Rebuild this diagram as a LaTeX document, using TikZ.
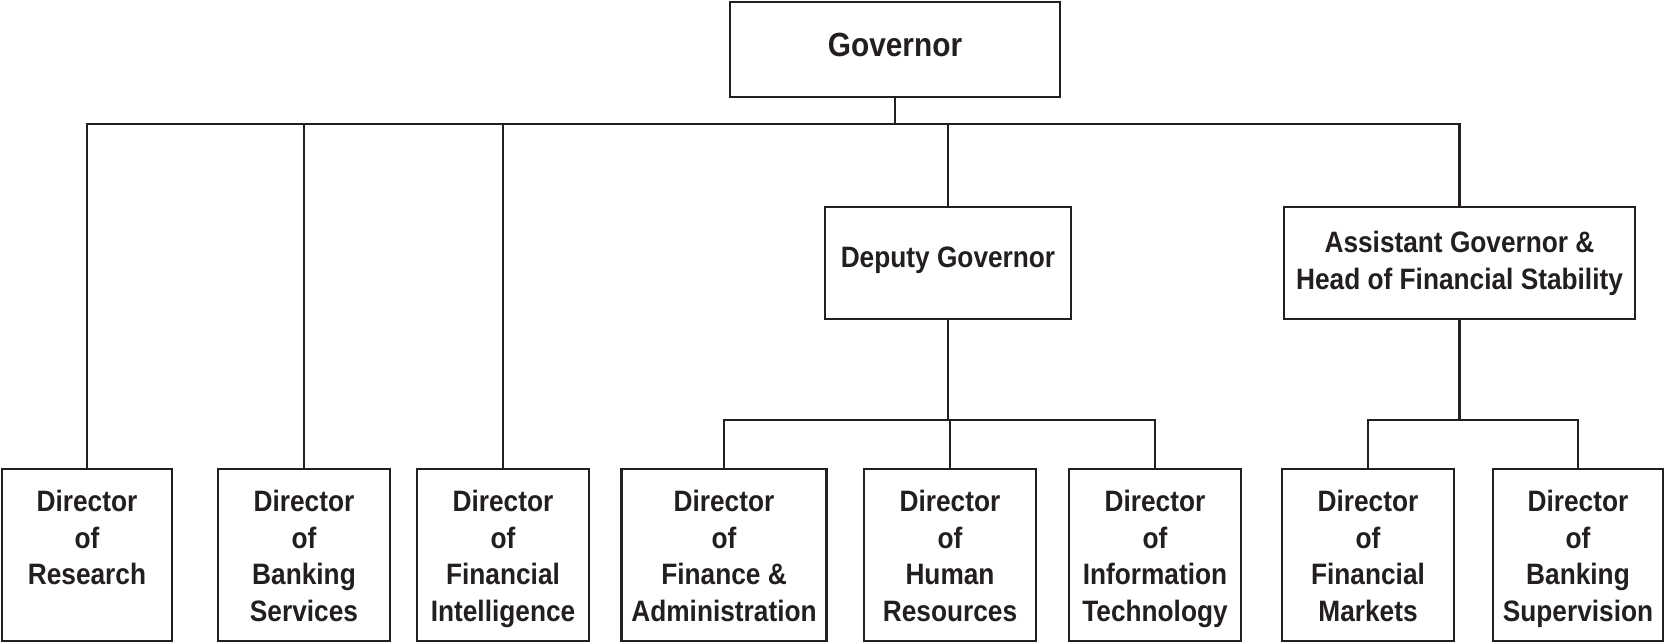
\documentclass[tikz,border=0pt]{standalone}
\usepackage{fontspec}
\newfontfamily\orgfont{Liberation Sans}[FakeStretch=0.89]
\definecolor{ink}{HTML}{231F20}
\begin{document}
\begin{tikzpicture}[x=1pt,y=-1pt,
  every node/.style={font=\orgfont\bfseries, text=ink},
  boxbase/.style={draw=ink, line width=2.6pt, rectangle, inner sep=0pt, fill=white},
  topbox/.style={boxbase, minimum width=330pt, minimum height=95pt, font=\orgfont\bfseries\fontsize{33.5}{40}\selectfont, text height=24pt, text depth=9pt},
  midbox/.style={boxbase, minimum height=112pt, font=\orgfont\bfseries\fontsize{29.5}{37}\selectfont, align=center},
  dirbox/.style={boxbase, font=\orgfont\bfseries\fontsize{29.5}{36.5}\selectfont},
  link/.style={draw=ink, line width=2.6pt}
]
\useasboundingbox (0,0) rectangle (1665,644);
\newcommand{\dirtext}[2]{\parbox[c][172pt][t]{#1}{\centering\vspace*{21.5pt}#2\par}}

\node[topbox] (gov) at (895,49.5) {Governor};
\node[midbox, minimum width=246pt, text depth=11pt] (dg) at (948,263) {Deputy Governor};
\node[midbox, minimum width=351pt] (ag) at (1459.5,263) {Assistant Governor \&\\Head of Financial Stability};

\node[dirbox] (res) at (87,555) {\dirtext{170pt}{Director\\of\\Research}};
\node[dirbox] (bsv) at (304,555) {\dirtext{172pt}{Director\\of\\Banking\\Services}};
\node[dirbox] (fi) at (503,555) {\dirtext{172pt}{Director\\of\\Financial\\Intelligence}};
\node[dirbox] (fa) at (724,555) {\dirtext{205pt}{Director\\of\\Finance \&\\Administration}};
\node[dirbox] (hr) at (950,555) {\dirtext{172pt}{Director\\of\\Human\\Resources}};
\node[dirbox] (it) at (1155,555) {\dirtext{172pt}{Director\\of\\Information\\Technology}};
\node[dirbox] (fm) at (1368,555) {\dirtext{172pt}{Director\\of\\Financial\\Markets}};
\node[dirbox] (bsu) at (1578,555) {\dirtext{170pt}{Director\\of\\Banking\\Supervision}};

\coordinate (bus) at (0,124);
\coordinate (dbus) at (0,420);

% main bus
\draw[link] (gov.south) -- (gov.south |- bus);
\draw[link] (res.north) |- (ag.north |- bus) -- (ag.north);
\draw[link] (bsv.north) -- (bsv.north |- bus);
\draw[link] (fi.north) -- (fi.north |- bus);
\draw[link] (dg.north) -- (dg.north |- bus);

% deputy governor branch
\draw[link] (dg.south) -- (dg.south |- dbus);
\draw[link] (fa.north) |- (it.north |- dbus) -- (it.north);
\draw[link] (hr.north) -- (hr.north |- dbus);

% assistant governor branch
\draw[link] (ag.south) -- (ag.south |- dbus);
\draw[link] (fm.north) |- (bsu.north |- dbus) -- (bsu.north);
\end{tikzpicture}
\end{document}
